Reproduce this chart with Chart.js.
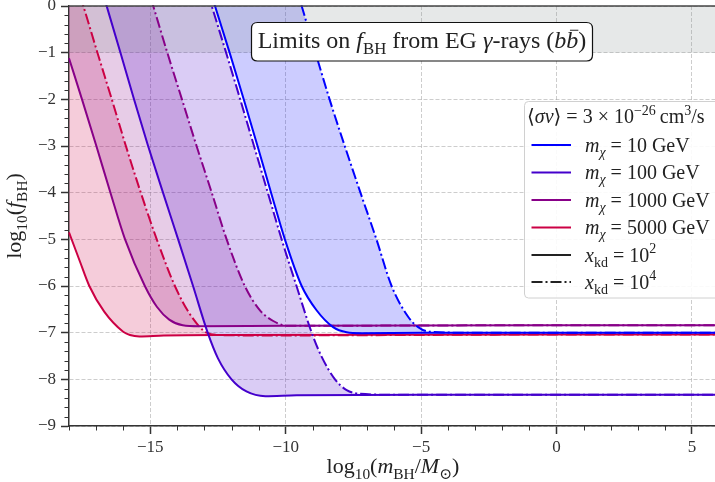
<!DOCTYPE html>
<html>
<head>
<meta charset="utf-8">
<script src="https://cdn.jsdelivr.net/npm/chart.js@4.4.1/dist/chart.umd.min.js"></script>
<style>
  html, body { margin: 0; padding: 0; background: #fff; overflow: hidden; }
  canvas { display: block; }
</style>
</head>
<body>
<canvas id="chart" width="715" height="482"></canvas>
<script>
// x axis: log10(m_BH / M_sun), y axis: log10(f_BH)
const xTicks = [-15, -10, -5, 0, 5];
const massLabels = ['10', '100', '1000', '5000'];   // m_chi in GeV
const kdLabels = ['2', '4'];                        // x_kd = 10^2, 10^4

// m_chi = 10 GeV
const m10_kd2_x = [-18, -12.61, -12.07, -11.55, -11.04, -10.54, -10.03, -9.41, -8.86, -8.25, -7.75, -7.2, -5, 0, 6];
const m10_kd2_y = [10.0, 0, -1, -2, -3, -4, -5, -6, -6.52, -6.88, -6.99, -7.01, -7.0, -7.0, -7.0];
const m10_kd4_x = [-18, -9.41, -8.9, -8.38, -7.82, -7.24, -6.65, -6.09, -5.48, -5.11, -4.7, -3.5, 0, 6];
const m10_kd4_y = [16.8, 0, -1, -2, -3, -4, -5, -6, -6.66, -6.88, -6.98, -7.0, -7.0, -7.0];

// m_chi = 100 GeV
const m100_kd2_x = [-18, -16.61, -16.1, -15.6, -15.08, -14.53, -13.97, -13.42, -12.88, -12.5, -12.0, -11.45, -10.75, -9.6, -5, 0, 6];
const m100_kd2_y = [2.7, 0, -1, -2, -3, -4, -5, -6, -7, -7.55, -8, -8.26, -8.36, -8.34, -8.33, -8.33, -8.33];
const m100_kd4_x = [-18, -12.73, -12.2, -11.68, -11.17, -10.66, -10.15, -9.6, -9.04, -8.67, -8.18, -7.75, -7.26, -6, 0, 6];
const m100_kd4_y = [10.0, 0, -1, -2, -3, -4, -5, -6, -7, -7.52, -8, -8.23, -8.31, -8.33, -8.33, -8.33];

// m_chi = 1000 GeV
const m1000_kd2_x = [-18, -17.52, -16.99, -16.47, -15.93, -15.2, -14.75, -14.3, -13.8, -13.2, -10, 0, 6];
const m1000_kd2_y = [-1.12, -2, -3, -4, -5, -6, -6.45, -6.72, -6.84, -6.86, -6.85, -6.84, -6.84];
const m1000_kd4_x = [-18, -14.89, -14.37, -13.83, -13.29, -12.73, -12.18, -11.51, -10.95, -10.46, -9.97, -8, 0, 6];
const m1000_kd4_y = [6.0, 0, -1, -2, -3, -4, -5, -6, -6.52, -6.75, -6.85, -6.85, -6.84, -6.84];

// m_chi = 5000 GeV
const m5000_kd2_x = [-18, -17.6, -17.25, -16.7, -16.0, -15.75, -15.4, -14.5, -12, 0, 6];
const m5000_kd2_y = [-4.85, -5.47, -6, -6.55, -6.98, -7.05, -7.08, -7.06, -7.05, -7.04, -7.04];
const m5000_kd4_x = [-18, -17.47, -16.95, -16.42, -15.9, -15.35, -14.76, -14.09, -13.54, -12.92, -12.43, -11, 0, 6];
const m5000_kd4_y = [1.0, 0, -1, -2, -3, -4, -5, -6, -6.6, -7, -7.05, -7.06, -7.04, -7.04];

// excluded band at the top (f_BH > 0.1)
const bandX = [-18, 6];
const bandY = [-1, -1];

const lineColors = ['#0000ff', '#4400cc', '#880088', '#cc0044'];
const fillColors = ['rgba(0,0,255,0.2)', 'rgba(68,0,204,0.2)', 'rgba(136,0,136,0.2)', 'rgba(204,0,68,0.2)'];
const DASHDOT = [11, 3, 2, 3];
const SERIF = "'Liberation Serif', 'DejaVu Serif', serif";

const curves = [
  [m10_kd2_x, m10_kd2_y, m10_kd4_x, m10_kd4_y],
  [m100_kd2_x, m100_kd2_y, m100_kd4_x, m100_kd4_y],
  [m1000_kd2_x, m1000_kd2_y, m1000_kd4_x, m1000_kd4_y],
  [m5000_kd2_x, m5000_kd2_y, m5000_kd4_x, m5000_kd4_y]
];

const pts = (xs, ys) => xs.map((x, i) => ({x: x, y: ys[i]}));

const datasets = [{
  data: pts(bandX, bandY),
  fill: 'end',
  backgroundColor: 'rgba(130,140,140,0.2)',
  borderWidth: 0,
  pointRadius: 0
}];
curves.forEach((c, k) => {
  datasets.push({
    data: pts(c[0], c[1]),
    borderColor: lineColors[k],
    backgroundColor: fillColors[k],
    fill: '+1',
    borderWidth: 2,
    pointRadius: 0,
    cubicInterpolationMode: 'monotone',
    clip: 1
  });
  datasets.push({
    data: pts(c[2], c[3]),
    borderColor: lineColors[k],
    borderDash: DASHDOT,
    fill: false,
    borderWidth: 2,
    pointRadius: 0,
    cubicInterpolationMode: 'monotone',
    clip: 1
  });
});

// draw a line of text made of runs: [text, 'i' or 'n', scale, dy, bar]
function drawRuns(ctx, runs, x, y, size, align) {
  const font = r => (r[1] === 'i' ? 'italic ' : '') + (size * (r[2] || 1)).toFixed(1) + 'px ' + SERIF;
  let w = 0;
  for (const r of runs) { ctx.font = font(r); w += ctx.measureText(r[0]).width; }
  let cx = align === 'center' ? x - w / 2 : x;
  for (const r of runs) {
    ctx.font = font(r);
    const rw = ctx.measureText(r[0]).width;
    const by = y + (r[3] || 0) * size;
    ctx.fillText(r[0], cx, by);
    if (r[4]) {
      ctx.save();
      ctx.lineWidth = 1;
      ctx.beginPath();
      ctx.moveTo(cx + rw * 0.3, by - size * 0.74);
      ctx.lineTo(cx + rw * 1.0, by - size * 0.74);
      ctx.strokeStyle = ctx.fillStyle;
      ctx.stroke();
      ctx.restore();
    }
    cx += rw;
  }
  return w;
}

function roundRect(ctx, x, y, w, h, r) {
  ctx.beginPath();
  ctx.moveTo(x + r, y);
  ctx.lineTo(x + w - r, y);
  ctx.quadraticCurveTo(x + w, y, x + w, y + r);
  ctx.lineTo(x + w, y + h - r);
  ctx.quadraticCurveTo(x + w, y + h, x + w - r, y + h);
  ctx.lineTo(x + r, y + h);
  ctx.quadraticCurveTo(x, y + h, x, y + h - r);
  ctx.lineTo(x, y + r);
  ctx.quadraticCurveTo(x, y, x + r, y);
  ctx.closePath();
}

const decor = {
  id: 'decor',
  afterDraw(chart) {
    const {ctx, chartArea: a} = chart;
    const xs = chart.scales.x, ys = chart.scales.y;
    ctx.save();

    // minor ticks
    ctx.strokeStyle = '#333';
    ctx.lineWidth = 1;
    ctx.beginPath();
    for (let v = -18; v <= 5; v++) {
      if (v % 5 === 0) continue;
      const px = Math.round(xs.getPixelForValue(v)) + 0.5;
      ctx.moveTo(px, a.bottom);
      ctx.lineTo(px, a.bottom + 4.5);
    }
    for (let k = -45; k <= 0; k++) {
      if (k % 5 === 0) continue;
      const py = Math.round(ys.getPixelForValue(k / 5)) + 0.5;
      ctx.moveTo(a.left, py);
      ctx.lineTo(a.left - 4.5, py);
    }
    ctx.stroke();

    // top spine
    ctx.lineWidth = 1.5;
    ctx.strokeStyle = '#444';
    ctx.beginPath();
    ctx.moveTo(a.left, a.top);
    ctx.lineTo(a.right, a.top);
    ctx.stroke();

    ctx.fillStyle = '#222';
    ctx.textBaseline = 'alphabetic';

    // axis titles
    drawRuns(ctx, [['log', 'n'], ['10', 'n', 0.7, 0.25], ['(', 'n'], ['m', 'i'], ['BH', 'n', 0.7, 0.25],
      ['/', 'n'], ['M', 'i'], ['\u2299', 'n', 0.7, 0.25], [')', 'n']], 393, 473, 22, 'center');
    ctx.save();
    ctx.translate(21, (a.top + a.bottom) / 2);
    ctx.rotate(-Math.PI / 2);
    drawRuns(ctx, [['log', 'n'], ['10', 'n', 0.7, 0.25], ['(', 'n'], ['f', 'i'], ['BH', 'n', 0.7, 0.25], [')', 'n']],
      0, 0, 22, 'center');
    ctx.restore();

    // title box
    roundRect(ctx, 251.5, 22.5, 341, 38.5, 6);
    ctx.fillStyle = '#fff';
    ctx.fill();
    ctx.lineWidth = 1.2;
    ctx.strokeStyle = '#111';
    ctx.stroke();
    ctx.fillStyle = '#222';
    drawRuns(ctx, [['Limits on ', 'n'], ['f', 'i'], ['BH', 'n', 0.7, 0.25], [' from EG ', 'n'], ['\u03b3', 'i'],
      ['-rays (', 'n'], ['b', 'i'], ['b', 'i', 1, 0, true], [')', 'n']], 422, 48, 24, 'center');

    // legend
    roundRect(ctx, 524.5, 101.5, 220, 196.5, 4);
    ctx.fillStyle = 'rgba(255,255,255,0.9)';
    ctx.fill();
    ctx.lineWidth = 1;
    ctx.strokeStyle = '#d0d0d0';
    ctx.stroke();
    ctx.fillStyle = '#222';
    drawRuns(ctx, [['\u27e8', 'n'], ['\u03c3v', 'i'], ['\u27e9 = 3 \u00d7 10', 'n'], ['\u221226', 'n', 0.7, -0.42],
      ['\u2009cm', 'n'], ['3', 'n', 0.7, -0.42], ['/s', 'n']], 527, 123, 20);

    const rowY = [145, 172.5, 200, 227.5, 255, 282];
    const sample = (yy, color, dash) => {
      ctx.save();
      ctx.strokeStyle = color;
      ctx.lineWidth = 2;
      ctx.setLineDash(dash);
      ctx.beginPath();
      ctx.moveTo(531.5, yy);
      ctx.lineTo(571, yy);
      ctx.stroke();
      ctx.restore();
    };
    massLabels.forEach((m, k) => {
      sample(rowY[k], lineColors[k], []);
      drawRuns(ctx, [['m', 'i'], ['\u03c7', 'i', 0.7, 0.25], [' = ' + m + ' GeV', 'n']], 585, rowY[k] + 6.5, 20);
    });
    kdLabels.forEach((p, j) => {
      sample(rowY[4 + j], '#222', j === 0 ? [] : DASHDOT);
      drawRuns(ctx, [['x', 'i'], ['kd', 'n', 0.7, 0.25], [' = 10', 'n'], [p, 'n', 0.7, -0.42]], 585, rowY[4 + j] + 6.5, 20);
    });

    ctx.restore();
  }
};

const minusFmt = v => String(v).replace('-', '\u2212');

new Chart(document.getElementById('chart').getContext('2d'), {
  type: 'line',
  data: {datasets: datasets},
  options: {
    responsive: false,
    animation: false,
    events: [],
    layout: {padding: {top: 6, right: 0, bottom: 0, left: 0}},
    plugins: {
      legend: {display: false},
      tooltip: {enabled: false},
      filler: {drawTime: 'beforeDatasetsDraw'}
    },
    scales: {
      x: {
        type: 'linear',
        min: -18,
        max: 5.85,
        afterBuildTicks: s => { s.ticks = xTicks.map(v => ({value: v})); },
        afterFit: s => { s.height = 56; s.paddingLeft = 0; s.paddingRight = 0; },
        ticks: {color: '#333', font: {family: SERIF, size: 17}, padding: 3, callback: minusFmt, maxRotation: 0},
        grid: {color: 'rgba(150,150,150,0.6)', lineWidth: 0.8, tickLength: 8, tickColor: '#333', tickWidth: 1.5},
        border: {display: true, color: '#333', width: 1.5, dash: [4, 2]}
      },
      y: {
        type: 'linear',
        min: -9,
        max: 0,
        afterFit: s => { s.width = 69; s.paddingTop = 0; s.paddingBottom = 0; },
        ticks: {stepSize: 1, color: '#333', font: {family: SERIF, size: 17}, padding: 5, callback: minusFmt},
        grid: {color: 'rgba(150,150,150,0.6)', lineWidth: 0.8, tickLength: 8, tickColor: '#333', tickWidth: 1.5},
        border: {display: true, color: '#333', width: 1.5, dash: [4, 2]}
      }
    }
  },
  plugins: [decor]
});
</script>
</body>
</html>
